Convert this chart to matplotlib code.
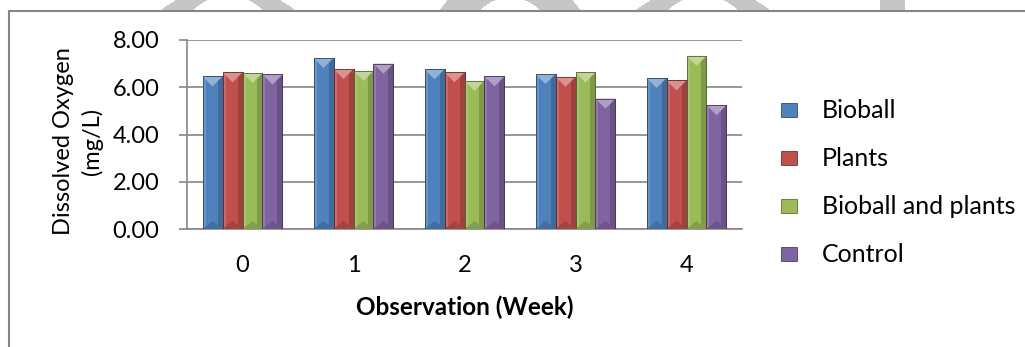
import matplotlib
matplotlib.use("Agg")
import matplotlib.pyplot as plt
import numpy as np
from matplotlib.patches import Polygon, Rectangle
from matplotlib.transforms import IdentityTransform
from matplotlib.colors import to_rgb

plt.rcParams['font.family'] = ['Lato', 'DejaVu Sans']

# ---- data ----
weeks = ["0", "1", "2", "3", "4"]
series_names = ["Bioball", "Plants", "Bioball and plants", "Control"]
bioball = [6.46, 7.24, 6.76, 6.56, 6.39]
plants = [6.63, 6.77, 6.63, 6.44, 6.29]
bioball_and_plants = [6.60, 6.69, 6.27, 6.63, 7.33]
control = [6.54, 7.00, 6.46, 5.52, 5.24]
series_values = [bioball, plants, bioball_and_plants, control]
y_ticks = [0, 2, 4, 6, 8]

colors = ["#4F81BD", "#C0504D", "#9BBB59", "#8064A2"]

W, H = 1025, 347
fig = plt.figure(figsize=(W / 100, H / 100), dpi=100)
fig.patch.set_facecolor("white")


def mix(c, t, amount):
    c = np.array(to_rgb(c))
    t = np.array(to_rgb(t))
    return tuple(c + (t - c) * amount)


# faint page watermark peeking above the chart frame (top 11 px strip)
strip_h = 11
yy, xx = np.mgrid[0:strip_h, 0:W] + 0.5
mask = np.zeros((strip_h, W), dtype=bool)
# (centre x, outer centre y, outer r, inner centre y, inner r)
for cx, oy, ro, iy, ri in [(228, 96, 109, 46, 50), (510, 58, 85, 39, 41.5),
                           (703, 96, 109, 46, 50)]:
    outer = np.hypot(xx - cx, yy - oy) <= ro
    inner = np.hypot(xx - cx, yy - iy) <= ri
    mask |= outer & ~inner
mask |= (xx >= 880) & (xx <= 905)
strip = np.ones((strip_h, W, 3))
strip[mask] = to_rgb("#c6c6c6")
fig.figimage(strip, xo=0, yo=H - strip_h, origin="upper", zorder=-3)

# chart frame: grey border on top and left
fig.add_artist(plt.Line2D([9, W], [H - 11, H - 11], color="#868686", lw=1.5,
                          transform=IdentityTransform(), zorder=-1))
fig.add_artist(plt.Line2D([9, 9], [0, H - 11], color="#868686", lw=1.5,
                          transform=IdentityTransform(), zorder=-1))

# plot area
left, right, top, bottom = 187, 742, 40, 229
ax = fig.add_axes([left / W, (H - bottom) / H, (right - left) / W,
                   (bottom - top) / H])
ax.set_facecolor("none")

x = np.arange(len(weeks))
bw = 0.18
ax.set_xlim(-0.5, len(weeks) - 0.5)
ax.set_ylim(0, 8)

px_x = (len(weeks)) / (right - left)
px_y = 8.0 / (bottom - top)

for i, (vals, col) in enumerate(zip(series_values, colors)):
    offs = (i - 1.5) * bw
    bars = ax.bar(x + offs, vals, width=bw, color=col,
                  edgecolor=mix(col, "black", 0.45), linewidth=0.6, zorder=3)
    for p in bars.patches:
        x0, w, h = p.get_x(), p.get_width(), p.get_height()
        ls = 3 * px_x
        rs = 5 * px_x
        th = 10 * px_y
        # bevel: light left edge, shaded right edge, light top, dark bottom
        ax.add_patch(Rectangle((x0, 0), ls, h, facecolor=mix(col, "white", 0.15),
                               edgecolor="none", zorder=3.1))
        ax.add_patch(Rectangle((x0 + w - rs, 0), rs, h,
                               facecolor=mix(col, "black", 0.18),
                               edgecolor="none", zorder=3.1))
        ax.add_patch(Polygon([(x0, h), (x0 + w, h), (x0 + w / 2, h - th)],
                             closed=True, facecolor=mix(col, "white", 0.38),
                             edgecolor="none", zorder=3.2))
        ax.add_patch(Polygon([(x0, 0), (x0 + w, 0), (x0 + w / 2, th * 0.8)],
                             closed=True, facecolor=mix(col, "black", 0.15),
                             edgecolor="none", zorder=3.2))
        ax.add_patch(Rectangle((x0, 0), w, h, facecolor="none",
                               edgecolor=mix(col, "black", 0.45),
                               linewidth=0.6, zorder=3.3))

# axes styling
fs = 17
ax.set_yticks(y_ticks)
ax.set_yticklabels([f"{v:.2f}" for v in y_ticks])
ax.set_xticks(x)
ax.set_xticklabels(weeks)
ax.yaxis.grid(True, color="#868686", linewidth=1.2, zorder=0)
ax.set_axisbelow(True)
for s in ["top", "right"]:
    ax.spines[s].set_visible(False)
ax.spines["left"].set_color("#868686")
ax.spines["left"].set_linewidth(1.2)
ax.spines["bottom"].set_color("#868686")
ax.spines["bottom"].set_linewidth(1.2)
ax.tick_params(axis="y", direction="out", length=6, width=1.2,
               color="#868686", labelsize=fs, pad=14)
ax.tick_params(axis="x", length=0, labelsize=fs, pad=19)

ax.set_xlabel("Observation (Week)", fontsize=17.5, fontweight="bold",
              labelpad=14)
ax.set_ylabel("Dissolved Oxygen\n(mg/L)", fontsize=fs, linespacing=1.4)
ax.yaxis.set_label_coords(-(187 - 103) / (right - left), 0.463)

# legend
leg_rows = [110, 158, 206, 254]
for name, col, yc in zip(series_names, colors, leg_rows):
    fig.add_artist(Rectangle((781, H - yc - 7), 16, 14, facecolor=col,
                             edgecolor=mix(col, "black", 0.4), linewidth=0.6,
                             transform=IdentityTransform()))
    fig.text(822 / W, (H - yc) / H, name, fontsize=18, va="center",
             ha="left")

fig.savefig("out.png", dpi=100)
